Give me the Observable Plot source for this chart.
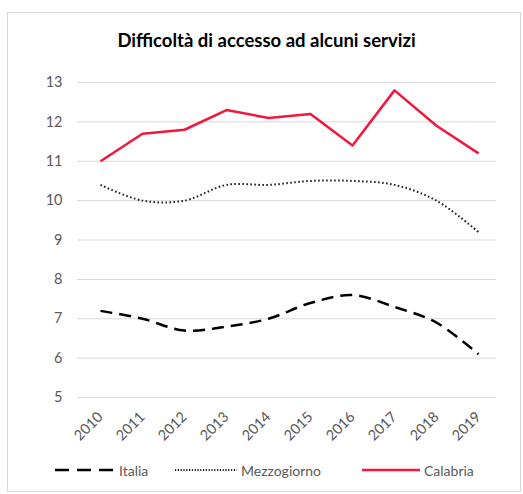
<!DOCTYPE html>
<html><head><meta charset="utf-8">
<script src="https://cdn.jsdelivr.net/npm/d3@7"></script>
<script src="https://cdn.jsdelivr.net/npm/@observablehq/plot@0.6"></script>
<style>
body{margin:0;background:#fff;font-family:Lato,"Open Sans",sans-serif;}
#wrap{position:relative;width:523px;height:494px;overflow:hidden;}
#frame{position:absolute;left:7px;top:12px;width:514px;height:480px;border:1px solid #d9d9d9;box-sizing:border-box;}
#title{position:absolute;left:0;width:533px;top:29px;text-align:center;font-weight:bold;font-size:18.5px;color:#000;}
#chart{position:absolute;left:0;top:0;}
#legend{position:absolute;top:460px;left:0;width:523px;height:20px;font-size:14px;color:#595959;}
.li{position:absolute;top:0;display:flex;align-items:center;height:20px;}
.li svg{margin-right:4px;}
</style></head>
<body><div id="wrap"><div id="frame"></div><div id="title">Difficoltà di accesso ad alcuni servizi</div><div id="chart"></div><div id="legend"></div></div>
<script>
const years = [2010,2011,2012,2013,2014,2015,2016,2017,2018,2019];
const italia = [7.2,7.0,6.7,6.8,7.0,7.4,7.6,7.3,6.9,6.1];
const mezzogiorno = [10.4,10.0,10.0,10.4,10.4,10.5,10.5,10.4,10.0,9.2];
const calabria = [11.0,11.7,11.8,12.3,12.1,12.2,11.4,12.8,11.9,11.2];
const yTicks = [5,6,7,8,9,10,11,12,13];

const series = [
  {name:"Italia", values:italia, stroke:"#000", width:2.5, dash:"12,7", curve:"catmull-rom"},
  {name:"Mezzogiorno", values:mezzogiorno, stroke:"#222", width:2, dash:"1.6,2.4", curve:"catmull-rom"},
  {name:"Calabria", values:calabria, stroke:"#f2173c", width:2.5, dash:null, curve:"linear"}
];
const rows = s => years.map((y,i)=>({year:String(y), value:s.values[i]}));

const chart = Plot.plot({
  width:523, height:494,
  marginLeft:77, marginRight:27, marginTop:82, marginBottom:97,
  style:{fontFamily:"Lato, 'Open Sans', sans-serif", fontSize:"14px", color:"#595959", background:"transparent"},
  x:{type:"point", domain:years.map(String), range:[97,480], padding:0, label:null},
  y:{domain:[5,13], ticks:yTicks, label:null},
  marks:[
    Plot.gridY(yTicks,{stroke:"#d9d9d9", strokeOpacity:1, strokeWidth:1}),
    Plot.axisY(yTicks,{tickSize:0, tickPadding:15, fontSize:14.5, fill:"#595959", label:null}),
    Plot.axisX({tickSize:0, tickRotate:-45, tickPadding:8, dx:0, dy:9, fontSize:14.5, fill:"#595959", label:null}),
    ...series.map(s=>Plot.line(rows(s),{x:"year", y:"value", stroke:s.stroke, strokeWidth:s.width, strokeDasharray:s.dash, curve:s.curve, strokeLinecap:"butt"}))
  ]
});
document.getElementById("chart").appendChild(chart);

const legendPos = [{x:55,w:60},{x:175,w:62},{x:362,w:58}];
const lg = document.getElementById("legend");
series.forEach((s,i)=>{
  const d = document.createElement("div");
  d.className="li"; d.style.left = legendPos[i].x+"px";
  const w = legendPos[i].w;
  d.innerHTML = `<svg width="${w}" height="10"><line x1="0" x2="${w}" y1="5" y2="5" stroke="${s.stroke}" stroke-width="${s.width}" ${s.dash?`stroke-dasharray="${s.name==='Italia'?'14,8':'1.2,1.6'}"`:''}/></svg><span>${s.name}</span>`;
  lg.appendChild(d);
});
</script></body></html>
